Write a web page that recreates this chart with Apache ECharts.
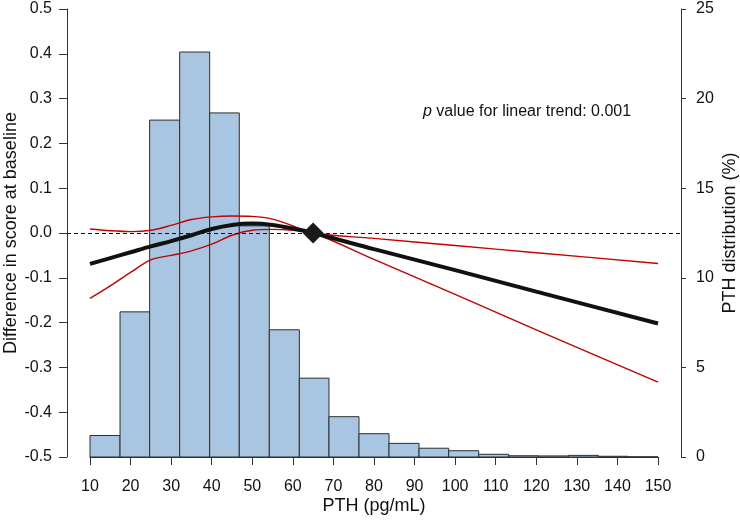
<!DOCTYPE html>
<html>
<head>
<meta charset="UTF-8">
<title>PTH</title>
<script type="text/javascript" src="https://cdn.jsdelivr.net/npm/echarts@6/dist/echarts.min.js"></script>
<style type="text/css">
 body{margin:0;background:#fff;}
 #main{width:740px;height:522px;}
</style>
</head>
<body>
<div id="main"></div>
<script type="text/javascript">
// histogram: bin edges (pg/mL) and share of participants (%)
var binEdges = [10, 17.4, 24.7, 32.1, 39.5, 46.8, 54.2, 61.6, 68.9, 76.3, 83.7, 91.1, 98.4, 105.8, 113.2, 120.5, 127.9, 135.3, 142.6, 150];
var histPct = [1.2, 8.1, 18.8, 22.6, 19.2, 12.9, 7.1, 4.4, 2.25, 1.3, 0.76, 0.49, 0.35, 0.15, 0.07, 0.06, 0.09, 0.04, 0.01];

// spline estimate with 95% CI
var pthX  = [10, 15, 20, 25, 30, 35, 40, 45, 50, 55, 60, 65, 80, 100, 120, 150];
var est   = [-0.069, -0.056, -0.043, -0.030, -0.018, -0.005, 0.009, 0.018, 0.021, 0.018, 0.010, 0, -0.036, -0.083, -0.131, -0.202];
var upper = [0.009, 0.005, 0.003, 0.006, 0.017, 0.030, 0.036, 0.038, 0.037, 0.031, 0.016, 0, -0.012, -0.028, -0.044, -0.068];
var lower = [-0.146, -0.118, -0.088, -0.060, -0.050, -0.040, -0.025, -0.005, 0.006, 0.008, 0.006, 0, -0.059, -0.137, -0.216, -0.333];

// reference point
var refX = 65, refY = 0;

var leftTicks = [-0.5, 0.5, 0.1];
var rightTicks = [0, 25, 5];
var xTicks = [10, 150, 10];

var font = 'Liberation Sans, Arial, sans-serif';
var axisCol = '#333';

// plot box: x 10..150 spans 90..658 px, y axes sit 23px outside
var pxPerUnit = (658 - 90) / (xTicks[1] - xTicks[0]);
var pad = 23 / pxPerUnit;

function zip(xs, ys) {
    var out = [];
    for (var i = 0; i < xs.length; i++) out.push([xs[i], ys[i]]);
    return out;
}

var histData = [];
for (var i = 0; i < histPct.length; i++) histData.push([binEdges[i], binEdges[i + 1], histPct[i]]);

var myChart = echarts.init(document.getElementById('main'));
var option = {
    animation: false,
    backgroundColor: '#fff',
    textStyle: {fontFamily: font},
    title: {
        text: '{i|p} value for linear trend: 0.001',
        left: 418,
        top: 99,
        textStyle: {
            fontFamily: font, fontSize: 16, fontWeight: 'normal', color: '#111',
            rich: {i: {fontFamily: font, fontSize: 16, fontStyle: 'italic', color: '#111'}}
        }
    },
    grid: [
        {left: 67, right: 59, top: 9, bottom: 65, outerBoundsMode: 'none'},
        {left: 90, right: 82, top: 9, bottom: 65, outerBoundsMode: 'none'}
    ],
    xAxis: [
        {gridIndex: 0, type: 'value', min: xTicks[0] - pad, max: xTicks[1] + pad, show: false},
        {
            gridIndex: 1, type: 'value', min: xTicks[0], max: xTicks[1], interval: xTicks[2],
            offset: 10,
            name: 'PTH (pg/mL)', nameLocation: 'middle', nameGap: 30, nameMoveOverlap: false,
            nameTextStyle: {fontFamily: font, fontSize: 18, color: '#111'},
            axisLine: {show: true, lineStyle: {color: axisCol, width: 1}},
            axisTick: {show: true, length: 8, lineStyle: {color: axisCol}},
            axisLabel: {fontFamily: font, fontSize: 16, color: '#111', margin: 12},
            splitLine: {show: false}
        }
    ],
    yAxis: [
        {
            gridIndex: 0, type: 'value', position: 'left',
            min: leftTicks[0], max: leftTicks[1], interval: leftTicks[2],
            name: 'Difference in score at baseline', nameLocation: 'middle', nameGap: 47, nameRotate: 90,
            nameMoveOverlap: false,
            nameTextStyle: {fontFamily: font, fontSize: 18, color: '#111'},
            axisLine: {show: true, lineStyle: {color: axisCol, width: 1}},
            axisTick: {show: true, length: 8, lineStyle: {color: axisCol}},
            axisLabel: {fontFamily: font, fontSize: 16, color: '#111', margin: 15,
                formatter: function (v) { return v.toFixed(1); }},
            splitLine: {show: false}
        },
        {
            gridIndex: 0, type: 'value', position: 'right',
            min: rightTicks[0], max: rightTicks[1], interval: rightTicks[2],
            name: 'PTH distribution (%)', nameLocation: 'middle', nameGap: 40, nameRotate: 90,
            nameMoveOverlap: false,
            nameTextStyle: {fontFamily: font, fontSize: 18, color: '#111'},
            axisLine: {show: true, lineStyle: {color: axisCol, width: 1}},
            axisTick: {show: true, length: 5, lineStyle: {color: axisCol}},
            axisLabel: {fontFamily: font, fontSize: 16, color: '#111', margin: 15},
            splitLine: {show: false}
        },
        {gridIndex: 1, type: 'value', min: 0, max: 1, show: false}
    ],
    series: [
        {
            type: 'custom',
            xAxisIndex: 0, yAxisIndex: 1,
            z: 1,
            data: histData,
            renderItem: function (params, api) {
                var p0 = api.coord([api.value(0), api.value(2)]);
                var p1 = api.coord([api.value(1), 0]);
                return {
                    type: 'rect',
                    shape: {x: p0[0], y: p0[1], width: p1[0] - p0[0], height: p1[1] - p0[1]},
                    style: {fill: '#a8c5e2', stroke: '#2e2e2e', lineWidth: 1}
                };
            }
        },
        {
            type: 'line', name: 'upper', xAxisIndex: 0, yAxisIndex: 0, z: 3,
            data: zip(pthX, upper), smooth: 0.35, showSymbol: false,
            lineStyle: {color: '#c40000', width: 1.4}
        },
        {
            type: 'line', name: 'lower', xAxisIndex: 0, yAxisIndex: 0, z: 3,
            data: zip(pthX, lower), smooth: 0.35, showSymbol: false,
            lineStyle: {color: '#c40000', width: 1.4}
        },
        {
            type: 'line', name: 'estimate', xAxisIndex: 0, yAxisIndex: 0, z: 4,
            data: zip(pthX, est), smooth: 0.35, showSymbol: false,
            lineStyle: {color: '#111', width: 4},
            markLine: {
                silent: true, symbol: 'none', label: {show: false},
                lineStyle: {color: '#111', type: [4, 3], width: 1},
                data: [{yAxis: 0}]
            }
        },
        {
            type: 'scatter', xAxisIndex: 0, yAxisIndex: 0, z: 5,
            symbol: 'diamond', symbolSize: 21,
            itemStyle: {color: '#1a1a1a', opacity: 1},
            data: [[refX, refY]]
        }
    ]
};
myChart.setOption(option);
</script>
</body>
</html>
